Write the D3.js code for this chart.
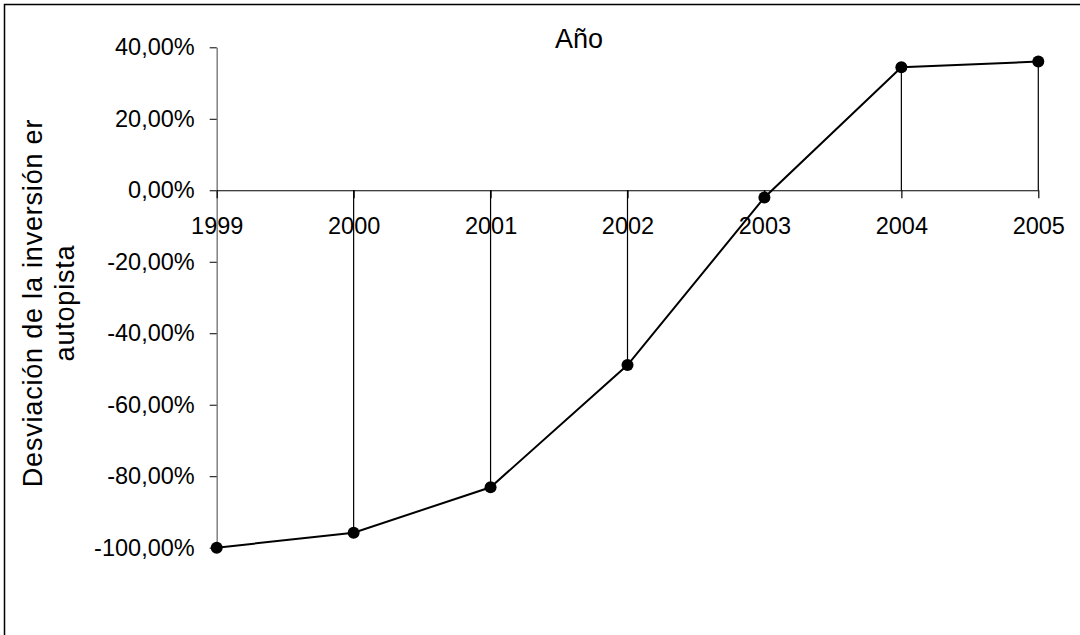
<!DOCTYPE html>
<html>
<head>
<meta charset="utf-8">
<script src="https://cdn.jsdelivr.net/npm/d3@7"></script>
<style>
  html, body { margin: 0; padding: 0; background: #fff; }
  svg { display: block; font-family: "Liberation Sans", Arial, sans-serif; }
</style>
</head>
<body>
<svg id="chart" width="1080" height="635"></svg>
<script>
// Años y desviación (%) de la inversión en autopista
const years = ["1999", "2000", "2001", "2002", "2003", "2004", "2005"];
const deviation = [-100.0, -95.8, -83.1, -48.9, -2.0, 34.4, 36.0];
const yTicks = [-100, -80, -60, -40, -20, 0, 20, 40];
const titleText = "Año";
const yTitleLines = ["Desviación de la inversión er", "autopista"];

const data = years.map((y, i) => ({ year: y, value: deviation[i] }));

const svg = d3.select("#chart");

// marco exterior del gráfico
svg.append("rect")
  .attr("x", 4.5).attr("y", 4.5)
  .attr("width", 1100).attr("height", 700)
  .attr("fill", "#fff")
  .attr("stroke", "#000")
  .attr("stroke-width", 1.5);

const x = d3.scalePoint().domain(years).range([216.7, 1038.3]).padding(0);
const y = d3.scaleLinear().domain([-100, 40]).range([547.7, 47.3]);

const esLocale = d3.formatLocale({
  decimal: ",", thousands: ".", grouping: [3], currency: ["", " €"], minus: "-"
});
const fmt = esLocale.format(".2f");

// eje vertical
const yAxis = svg.append("g")
  .attr("transform", `translate(${x(years[0])},0)`)
  .call(d3.axisLeft(y).tickValues(yTicks).tickSize(7).tickSizeOuter(0).tickPadding(15)
    .tickFormat(d => fmt(d) + "%"));
yAxis.select(".domain").attr("stroke", "#808080").attr("stroke-width", 1.5);
yAxis.selectAll(".tick line").attr("stroke", "#000");
yAxis.selectAll("text").attr("font-size", 23.5).attr("fill", "#000")
  .attr("font-family", "Liberation Sans, Arial, sans-serif");

// líneas de caída hasta el eje horizontal
svg.append("g").selectAll("line")
  .data(data.slice(1))
  .join("line")
  .attr("x1", d => x(d.year)).attr("x2", d => x(d.year))
  .attr("y1", d => y(d.value)).attr("y2", y(0))
  .attr("stroke", "#000").attr("stroke-width", 1.2);

// eje horizontal en 0
const xAxis = svg.append("g")
  .attr("transform", `translate(0,${y(0)})`)
  .call(d3.axisBottom(x).tickSize(8).tickSizeOuter(0).tickPadding(19));
xAxis.select(".domain").attr("stroke", "#000").attr("stroke-width", 1.2);
xAxis.selectAll(".tick line").attr("stroke", "#000").attr("stroke-width", 1.2);
xAxis.selectAll("text").attr("font-size", 23.5).attr("fill", "#000")
  .attr("font-family", "Liberation Sans, Arial, sans-serif");

// serie
svg.append("path")
  .datum(data)
  .attr("fill", "none")
  .attr("stroke", "#000")
  .attr("stroke-width", 2)
  .attr("d", d3.line().x(d => x(d.year)).y(d => y(d.value)));

svg.append("g").selectAll("circle")
  .data(data)
  .join("circle")
  .attr("cx", d => x(d.year))
  .attr("cy", d => y(d.value))
  .attr("r", 6)
  .attr("fill", "#000");

// título del eje horizontal
svg.append("text")
  .attr("x", 579).attr("y", 47.5)
  .attr("text-anchor", "middle")
  .attr("font-size", 27)
  .text(titleText);

// título del eje vertical
const yt = svg.append("text")
  .attr("transform", "translate(0,303) rotate(-90)")
  .attr("text-anchor", "middle")
  .attr("font-size", 27)
  .attr("letter-spacing", 0.8);
yt.selectAll("tspan")
  .data(yTitleLines)
  .join("tspan")
  .attr("x", 0)
  .attr("y", (d, i) => 42 + i * 32)
  .text(d => d);
</script>
</body>
</html>
